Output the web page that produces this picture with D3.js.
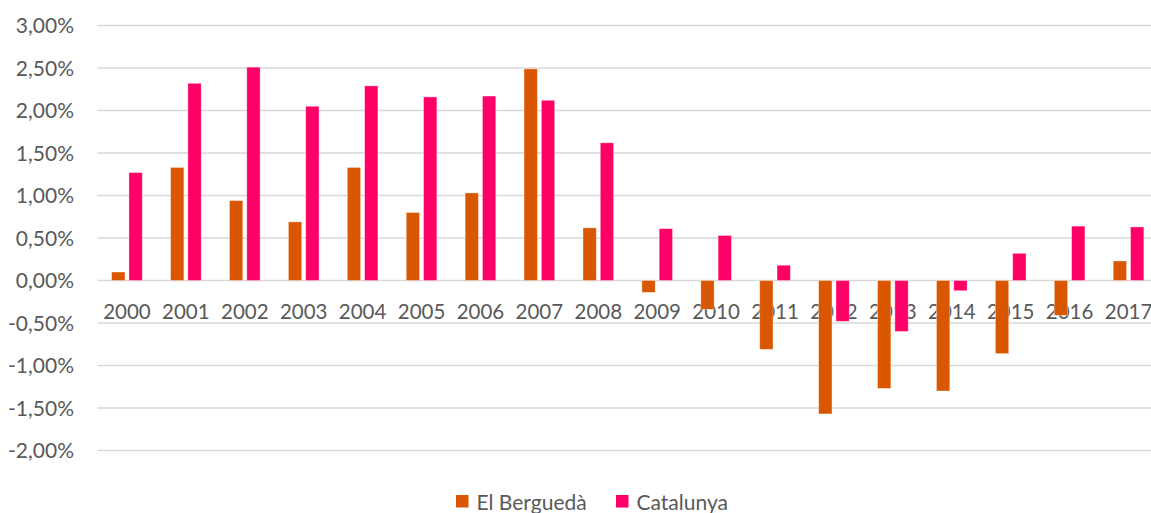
<!DOCTYPE html>
<html>
<head>
<meta charset="utf-8">
<script src="https://cdn.jsdelivr.net/npm/d3@7/dist/d3.min.js"></script>
<style>
  html, body { margin: 0; padding: 0; background: #fff; }
  svg { display: block; font-family: Lato, "Open Sans", sans-serif; }
</style>
</head>
<body>
<div id="chart"></div>
<script>
// data (% growth)
var years = ["2000","2001","2002","2003","2004","2005","2006","2007","2008",
             "2009","2010","2011","2012","2013","2014","2015","2016","2017"];
var bergueda = [0.10, 1.33, 0.94, 0.69, 1.33, 0.80, 1.03, 2.49, 0.62,
                -0.14, -0.34, -0.81, -1.57, -1.27, -1.30, -0.86, -0.41, 0.23];
var catalunya = [1.27, 2.32, 2.51, 2.05, 2.29, 2.16, 2.17, 2.12, 1.62,
                 0.61, 0.53, 0.18, -0.48, -0.60, -0.12, 0.32, 0.64, 0.63];
var yTicks = [3, 2.5, 2, 1.5, 1, 0.5, 0, -0.5, -1, -1.5, -2];

var seriesNames = ["El Berguedà", "Catalunya"];
var seriesColors = { "El Berguedà": "#D95700", "Catalunya": "#FF0066" };

var width = 1151, height = 513;
var plotLeft = 97.5, plotRight = 1158;

var svg = d3.select("#chart").append("svg")
    .attr("width", width)
    .attr("height", height);

var y = d3.scaleLinear().domain([-2, 3]).range([450.5, 25.5]);

var x0 = d3.scaleBand().domain(years)
    .range([plotLeft, plotRight])
    .paddingInner(0.48)
    .paddingOuter(0.24);

var x1 = d3.scaleBand().domain(seriesNames)
    .range([0, x0.bandwidth()])
    .paddingInner(0.23);

// gridlines
svg.append("g").selectAll("line")
    .data(yTicks)
    .enter().append("line")
    .attr("x1", plotLeft)
    .attr("x2", width)
    .attr("y1", function(d) { return y(d); })
    .attr("y2", function(d) { return y(d); })
    .attr("stroke", "#D9D9D9")
    .attr("stroke-width", 1.3);

// y labels, comma decimals and a plain hyphen for the minus
var fmt = function(d) { return d3.format(".2f")(d).replace(".", ",").replace("\u2212", "-") + "%"; };
svg.append("g").selectAll("text")
    .data(yTicks)
    .enter().append("text")
    .attr("x", 74)
    .attr("y", function(d) { return y(d); })
    .attr("dy", "0.36em")
    .attr("text-anchor", "end")
    .attr("fill", "#595959")
    .style("font-size", "21px")
    .text(fmt);

// category labels (drawn under the bars)
svg.append("g").selectAll("text")
    .data(years)
    .enter().append("text")
    .attr("x", function(d) { return x0(d) + x0.bandwidth() / 2; })
    .attr("y", 319)
    .attr("text-anchor", "middle")
    .attr("fill", "#595959")
    .style("font-size", "20.5px")
    .text(function(d) { return d; });

// bars
var rows = years.map(function(yr, i) {
    return { year: yr, values: [
        { name: "El Berguedà", value: bergueda[i] },
        { name: "Catalunya", value: catalunya[i] }
    ] };
});

var groups = svg.append("g").selectAll("g")
    .data(rows)
    .enter().append("g")
    .attr("transform", function(d) { return "translate(" + x0(d.year) + ",0)"; });

groups.selectAll("rect")
    .data(function(d) { return d.values; })
    .enter().append("rect")
    .attr("x", function(d) { return x1(d.name); })
    .attr("width", x1.bandwidth())
    .attr("y", function(d) { return y(Math.max(0, d.value)); })
    .attr("height", function(d) { return Math.abs(y(d.value) - y(0)); })
    .attr("fill", function(d) { return seriesColors[d.name]; })
    .attr("stroke", "#fff")
    .attr("stroke-opacity", 0.45)
    .attr("stroke-width", 0.8);

// legend
var legendItems = [
    { name: "El Berguedà", x: 456 },
    { name: "Catalunya", x: 616 }
];
var legend = svg.append("g").selectAll("g")
    .data(legendItems)
    .enter().append("g")
    .attr("transform", function(d) { return "translate(" + d.x + ",0)"; });

legend.append("rect")
    .attr("x", 0)
    .attr("y", 495)
    .attr("width", 12.5)
    .attr("height", 12.5)
    .attr("fill", function(d) { return seriesColors[d.name]; });

legend.append("text")
    .attr("x", 20.5)
    .attr("y", 509.5)
    .attr("fill", "#595959")
    .style("font-size", "21px")
    .text(function(d) { return d.name; });
</script>
</body>
</html>
